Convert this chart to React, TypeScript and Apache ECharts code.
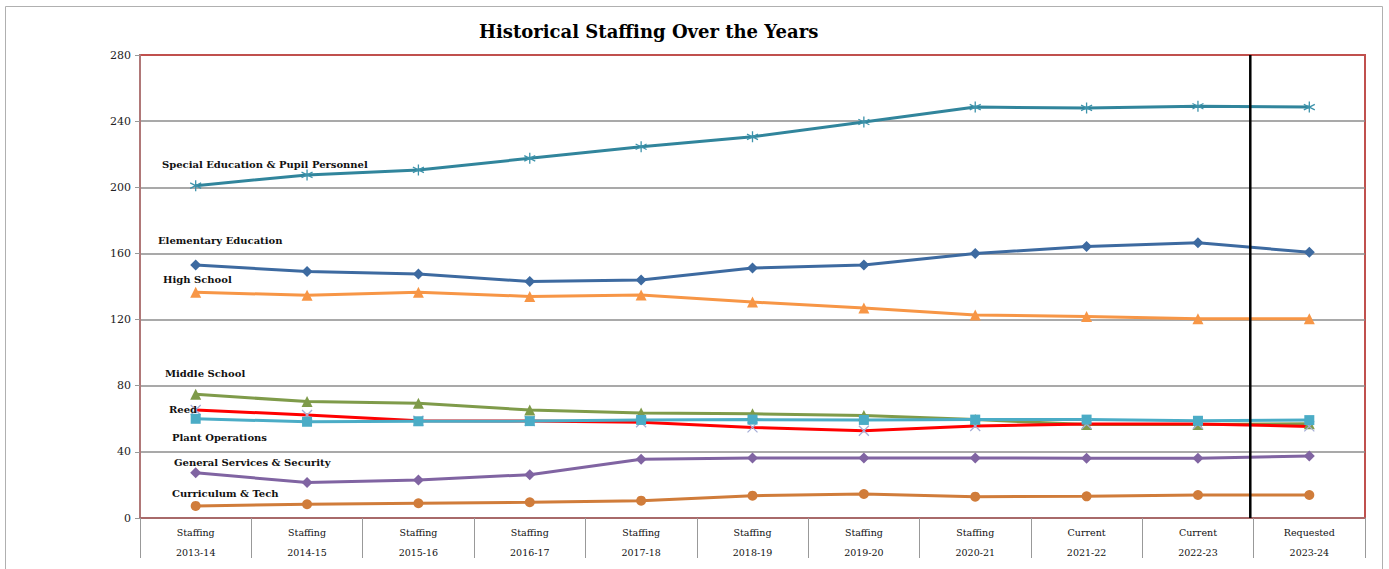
import React, { useEffect, useRef } from "react";
import * as echarts from "echarts";

// School years along the bottom axis (two-line labels)
const periodLabels = ["Staffing", "Staffing", "Staffing", "Staffing", "Staffing", "Staffing", "Staffing", "Staffing", "Current", "Current", "Requested"];
const years = ["2013-14", "2014-15", "2015-16", "2016-17", "2017-18", "2018-19", "2019-20", "2020-21", "2021-22", "2022-23", "2023-24"];

// Staffing counts by department
const specialEducation = [201, 207.5, 210.5, 217.5, 224.5, 230.5, 239.5, 248.5, 248, 249, 248.5];
const elementary = [153, 149, 147.5, 143, 144, 151.2, 153, 160, 164.2, 166.5, 160.7];
const highSchool = [136.5, 134.7, 136.5, 134, 134.8, 130.6, 127, 122.8, 121.8, 120.5, 120.5];
const middleSchool = [74.8, 70.4, 69.4, 65.3, 63.5, 63, 62, 59.5, 56.5, 56.5, 57];
const reed = [65.3, 62.3, 58.8, 58.7, 57.9, 54.8, 52.8, 55.6, 56.8, 56.8, 55.4];
const plantOperations = [60, 58.2, 58.5, 58.6, 59.3, 59.5, 59.3, 59.5, 59.5, 58.8, 59.2];
const generalServices = [27.4, 21.4, 23, 26.2, 35.5, 36.3, 36.3, 36.3, 36.1, 36.1, 37.5];
const curriculumTech = [7.3, 8.3, 8.9, 9.5, 10.5, 13.5, 14.5, 12.9, 13.1, 13.9, 13.9];

// Y axis ticks
const yMin = 0;
const yMax = 280;
const yStep = 40;

// Divider between actual and requested years, in category units
const dividerAt = 9.97;

// Series label annotations
const seriesNames = [
  "Special Education & Pupil Personnel",
  "Elementary Education",
  "High School",
  "Middle School",
  "Reed",
  "Plant Operations",
  "General Services & Security",
  "Curriculum & Tech",
];

const SERIF = '"DejaVu Serif", "Liberation Serif", serif';

// Excel-style asterisk marker: X with a vertical stroke
const ASTERISK = "path://M5,0L5,10M0.7,2.5L9.3,7.5M0.7,7.5L9.3,2.5";

export default function App() {
  const ref = useRef<HTMLDivElement>(null);

  useEffect(() => {
    if (!ref.current) return;
    const chart = echarts.init(ref.current, undefined, { renderer: "svg" });

    const lineSeries = (
      name: string,
      data: number[],
      color: string,
      symbol: string,
      symbolSize: number,
      extra: any = {}
    ) => ({
      name,
      type: "line",
      data,
      xAxisIndex: 0,
      yAxisIndex: 0,
      symbol,
      symbolSize,
      showSymbol: true,
      lineStyle: { color, width: 3 },
      itemStyle: { color, borderWidth: 0 },
      emphasis: { disabled: true },
      ...extra,
    });

    const labelPos: [number, number][] = [
      [162, 164],
      [158, 240],
      [163, 279],
      [165, 373],
      [169, 409],
      [172, 437],
      [174, 462],
      [172, 493],
    ];

    chart.setOption({
      animation: false,
      backgroundColor: "#ffffff",
      title: {
        text: "Historical Staffing Over the Years",
        left: 474,
        top: 17,
        textStyle: { fontFamily: SERIF, fontWeight: "bold", fontSize: 18, color: "#000" },
      },
      grid: {
        left: 140,
        right: 24,
        top: 55,
        bottom: 51,
        show: true,
        borderColor: "#c0504d",
        borderWidth: 2,
        backgroundColor: "transparent",
      },
      xAxis: [
        {
          type: "category",
          data: years.map((y, i) => periodLabels[i] + "\n" + y),
          boundaryGap: true,
          axisLine: { show: true, lineStyle: { color: "#a86a6a", width: 2 } },
          axisTick: { show: true, interval: 0, length: 40, lineStyle: { color: "#999", width: 1 } },
          axisLabel: {
            interval: 0,
            margin: 4,
            fontFamily: SERIF,
            fontSize: 9.5,
            lineHeight: 20,
            color: "#111",
          },
          splitLine: { show: false },
        },
        {
          type: "value",
          min: 0,
          max: years.length,
          show: false,
        },
      ],
      yAxis: {
        type: "value",
        min: yMin,
        max: yMax,
        interval: yStep,
        axisLine: { show: true, lineStyle: { color: "#b07878", width: 2 } },
        axisTick: { show: true, length: 5, lineStyle: { color: "#999" } },
        axisLabel: { fontFamily: SERIF, fontSize: 11, color: "#222", margin: 9 },
        splitLine: {
          show: true,
          showMinLine: false,
          showMaxLine: false,
          lineStyle: { color: "#8c8c8c", width: 1.5 },
        },
      },
      series: [
        lineSeries(seriesNames[0], specialEducation, "#31859c", ASTERISK, 11, {
          itemStyle: { color: "none", borderColor: "#3d93ab", borderWidth: 1.3 },
        }),
        lineSeries(seriesNames[1], elementary, "#3d6aa0", "diamond", 11),
        lineSeries(seriesNames[2], highSchool, "#f79646", "triangle", 11),
        lineSeries(seriesNames[3], middleSchool, "#7f9b4a", "triangle", 11),
        lineSeries(seriesNames[4], reed, "#ff0000", "path://M0,0L10,10M0,10L10,0", 10, {
          itemStyle: { color: "none", borderColor: "#a6aed6", borderWidth: 1.3 },
        }),
        lineSeries(seriesNames[5], plantOperations, "#4bacc6", "rect", 10),
        lineSeries(seriesNames[6], generalServices, "#8064a2", "diamond", 11),
        lineSeries(seriesNames[7], curriculumTech, "#d07c3a", "circle", 10),
        {
          name: "divider",
          type: "line",
          xAxisIndex: 1,
          yAxisIndex: 0,
          data: [
            [dividerAt, yMin],
            [dividerAt, yMax],
          ],
          symbol: "none",
          lineStyle: { color: "#000", width: 2.5 },
          z: 5,
          emphasis: { disabled: true },
        },
      ],
      graphic: [
        {
          type: "rect",
          shape: { x: 5.5, y: 6.5, width: 1377, height: 620 },
          style: { fill: "none", stroke: "#b0b0b0", lineWidth: 1 },
          silent: true,
          z: -1,
        },
        ...seriesNames.map((name, i) => ({
          type: "text",
          x: labelPos[i][0],
          y: labelPos[i][1],
          silent: true,
          z: 10,
          style: {
            text: name,
            fontFamily: SERIF,
            fontWeight: "bold",
            fontSize: 10,
            fill: "#111",
            verticalAlign: "middle",
          },
        })),
      ],
    });

    return () => chart.dispose();
  }, []);

  return (
    <div
      ref={ref}
      style={{ position: "fixed", left: 0, top: 0, width: 1389, height: 569, background: "#fff" }}
    />
  );
}
